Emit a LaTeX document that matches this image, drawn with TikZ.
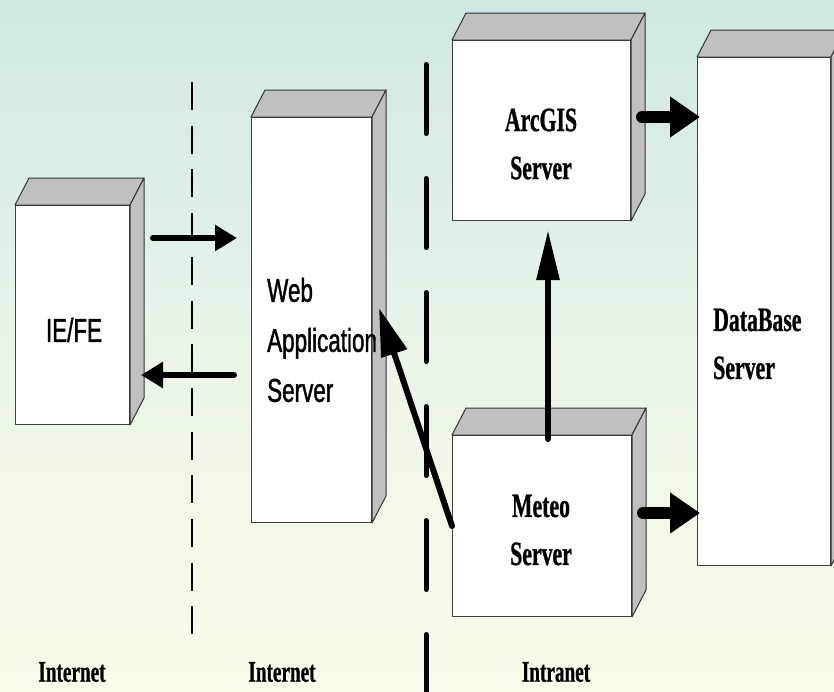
\documentclass[tikz,border=0pt]{standalone}
\usepackage{fontspec}
\usetikzlibrary{arrows.meta}
\newfontfamily\lblserif[FakeStretch=0.64,FakeBold=0.8]{Liberation Serif Bold}
\newfontfamily\lblsans[FakeStretch=0.68,FakeBold=1.2]{Liberation Sans}
\definecolor{bgtop}{RGB}{207,231,229}
\definecolor{bgmid}{RGB}{234,245,232}
\definecolor{bgbot}{RGB}{248,252,234}
\definecolor{sidegray}{RGB}{192,192,192}

\begin{document}
\begin{tikzpicture}[
    x=1pt, y=-1pt,
    front/.style={draw=black!75, fill=white, line width=1pt, inner sep=0pt, anchor=north west},
    depth/.style={draw=black!80, fill=sidegray, line width=1pt, line join=round},
    seriflbl/.style={font=\lblserif\fontsize{34}{48}\selectfont, inner sep=0pt},
    sanslbl/.style={font=\lblsans\fontsize{33}{50}\selectfont, inner sep=0pt},
    netlbl/.style={font=\lblserif\fontsize{30}{30}\selectfont, inner sep=0pt},
    arr/.style={line width=6pt, line cap=round, -{Triangle[length=22pt,width=25pt]}},
    bigarr/.style={line width=12pt, line cap=round, -{Triangle[length=30pt,width=39pt]}},
    zone/.style={line width=1.5pt, dash pattern=on 28pt off 15.7pt},
    wall/.style={line width=5pt, line cap=round, dash pattern=on 69pt off 45pt}
]

% background
\clip (0,0) rectangle (834,691);
\fill[top color=bgtop, bottom color=bgbot, middle color=bgmid] (0,0) rectangle (834,691);

% zone borders
\draw[zone] (192,82) -- (192,635);
\draw[wall] (426,64.5) -- (426,700);

% servers (front faces)
\node[front, minimum width=114, minimum height=219] (ie) at (15,205) {};
\node[front, minimum width=120, minimum height=405] (web) at (251,117) {};
\node[front, minimum width=178, minimum height=180] (arcgis) at (452,40) {};
\node[front, minimum width=179, minimum height=181] (meteo) at (452,435) {};
\node[front, minimum width=133, minimum height=508] (db) at (697,57) {};

% top and side faces
\foreach \n in {ie,web,arcgis,meteo,db} {
    \draw[depth] (\n.north west) -- ++(14,-27) -- ([shift={(14,-27)}]\n.north east)
        -- (\n.north east) -- cycle;
    \draw[depth] (\n.north east) -- ([shift={(14,-27)}]\n.north east)
        -- ([shift={(14,-27)}]\n.south east) -- (\n.south east) -- cycle;
}

% labels
\node[sanslbl] (ielbl) at (74,330) {IE/FE};
\node[sanslbl, align=left, anchor=west] (weblbl) at (267,340) {Web\\Application\\Server};
\node[seriflbl, align=center] (arclbl) at (541,144) {ArcGIS\\Server};
\node[seriflbl, align=left, anchor=west] (dblbl) at (713,344) {DataBase\\Server};
\node[seriflbl, align=center] (metlbl) at (541,530) {Meteo\\Server};

\node[netlbl] (net1) at (72,672) {Internet};
\node[netlbl] (net2) at (282,672) {Internet};
\node[netlbl] (net3) at (556,672) {Intranet};

% connectors
\coordinate (rowa) at (0,238);
\coordinate (rowb) at (0,375);
\coordinate (rowc) at (0,117);
\coordinate (rowd) at (0,513);
\coordinate (colm) at (548,0);

\draw[arr, shorten <=23pt, shorten >=14pt] (ie.east |- rowa) -- (web.west |- rowa);
\draw[arr, shorten <=17pt, shorten >=11pt] (web.west |- rowb) -- (ie.east |- rowb);
\draw[arr, -{Triangle[length=48pt,width=26pt]}] (meteo.west) -- ([shift={(7,-12)}]web.east);
\draw[arr, -{Triangle[length=50pt,width=22pt]}, shorten <=-4pt, shorten >=9pt]
    (meteo.north -| colm) -- (arcgis.south -| colm);
\draw[bigarr, shorten <=11pt, shorten >=-3pt] (arcgis.east |- rowc) -- (db.west |- rowc);
\draw[bigarr, shorten <=11pt, shorten >=-3pt] (meteo.east |- rowd) -- (db.west |- rowd);

\end{tikzpicture}
\end{document}
